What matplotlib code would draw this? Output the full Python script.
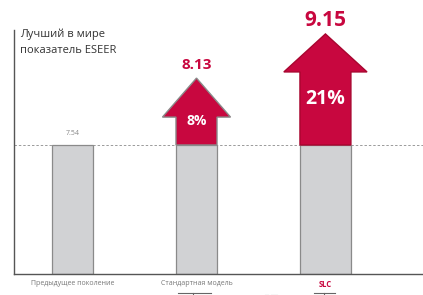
import matplotlib
matplotlib.use("Agg")
import matplotlib.pyplot as plt
from matplotlib.patches import Polygon

# ---- data ----
categories = ["Предыдущее поколение", "Стандартная модель", "SLC"]
values = [7.54, 8.13, 9.15]
gains = ["", "8%", "21%"]
value_labels = ["7.54", "8.13", "9.15"]
# visual heights of the arrow tips (chart is stylised, not to scale)
arrow_tips = [None, 11.45, 14.03]
title = "Лучший в мире\nпоказатель ESEER"

# ---- layout / style ----
x_pos = [0, 1, 2.04]
widths = [0.331, 0.331, 0.411]
head_over = [0, 0.109, 0.13]
head_len = [0, 2.28, 2.22]
gain_frac = [0, 0.86, 0.63]
base = values[0]
RED = "#c8073f"
GREY_BAR = "#d1d2d4"

fig = plt.figure(figsize=(4.23, 2.95), dpi=100)
ax = fig.add_axes([14/423, 21/295, 409/423, 244/295])
ax.set_xlim(-0.472, 2.827)
ax.set_ylim(0, 244/17.11)
for s in ["top", "right"]:
    ax.spines[s].set_visible(False)
for s in ["left", "bottom"]:
    ax.spines[s].set_color("#555555")
    ax.spines[s].set_linewidth(1.0)
ax.set_yticks([])

ax.axhline(base, color="#9a9a9a", lw=0.7, ls=(0, (2.5, 2)), zorder=1)

for i, (x, w) in enumerate(zip(x_pos, widths)):
    ax.bar(x, base, width=w, color=GREY_BAR, edgecolor="#8a8a8a", lw=0.9, zorder=2)

ax.text(x_pos[0], base + 0.7, value_labels[0], ha="center", va="center",
        fontsize=5, color="#888888", family="Open Sans")

edgecols = [None, "#8a8a8a", "#a8052f"]
label_fs = [None, 11, 15]
gain_fs = [None, 10, 14]
for i in [1, 2]:
    x, w = x_pos[i], widths[i]
    tip = arrow_tips[i]
    hb = tip - head_len[i]
    l, r = x - w/2, x + w/2
    pts = [(l, base), (l, hb), (l - head_over[i], hb), (x, tip),
           (r + head_over[i], hb), (r, hb), (r, base)]
    ax.add_patch(Polygon(pts, closed=True, facecolor=RED, edgecolor=edgecols[i],
                         lw=1.0, zorder=3, clip_on=False, joinstyle="miter"))
    ax.annotate(value_labels[i], (x, tip), xytext=(0, 9.4),
                textcoords="offset points", ha="center", va="center",
                fontsize=label_fs[i], fontweight="bold", color=RED,
                family="Open Sans", annotation_clip=False)
    ax.text(x, base + gain_frac[i] * (hb - base), gains[i], ha="center", va="center",
            fontsize=gain_fs[i], fontweight="bold", color="white", family="Open Sans",
            zorder=4)

ax.set_xticks(x_pos)
ax.set_xticklabels(categories, fontsize=5, color="#777777", family="Open Sans")
ax.tick_params(axis="x", length=0, pad=4.5)
tl = ax.get_xticklabels()
tl[2].set_color(RED)
tl[2].set_fontweight("bold")
tl[2].set_fontsize(5.5)

fig.text(20/423, 1 - 42/295, title, ha="left", va="center", fontsize=8,
         color="#333333", family="Open Sans", linespacing=1.6)

# decorative cropped fragments along the bottom edge
def hl(x0, x1, y):
    fig.add_artist(plt.Line2D([x0/423, x1/423], [1 - y/295, 1 - y/295], color="#666666", lw=0.8))
def vl(x, y0, y1):
    fig.add_artist(plt.Line2D([x/423, x/423], [1 - y0/295, 1 - y1/295], color="#666666", lw=0.8))
hl(178, 211, 292.5); vl(193, 292.5, 295)
hl(314, 335, 292.5); vl(324, 292.5, 295)
hl(265, 268, 294.5); hl(271, 277, 294.5)

fig.savefig("out.png", dpi=100)
